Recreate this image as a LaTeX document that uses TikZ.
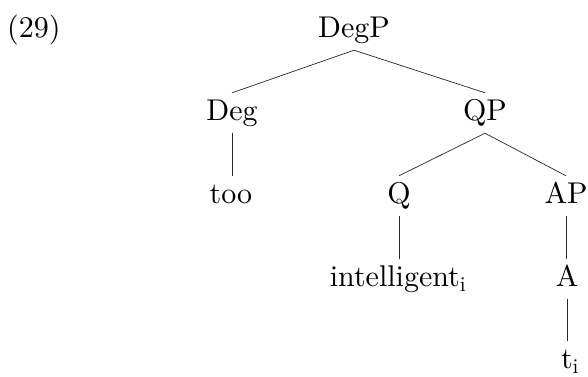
\documentclass[tikz,border=0pt]{standalone}
\usepackage{fontspec}
\setmainfont{lmroman10-regular}[Extension=.otf]
\begin{document}
\begin{tikzpicture}[x=1pt,y=-1pt,
  lbl/.style={anchor=base,inner xsep=0pt,inner ysep=7pt,text height=20pt,text depth=6pt,font=\fontsize{30}{36}\selectfont},
  edge/.style={draw=black!85,line width=0.7pt}]
\useasboundingbox (0,0) rectangle (588,376);
\node[anchor=base west,inner sep=0pt,font=\fontsize{30}{36}\selectfont] (num) at (7,37) {(29)};
\node[lbl] (DegP) at (354,37) {DegP};
\node[lbl] (Deg) at (232,120) {Deg};
\node[lbl] (QP) at (485,120) {QP};
\node[lbl] (too) at (231,203) {too};
\node[lbl] (Q) at (399,203) {Q};
\node[lbl] (AP) at (566,203) {AP};
\node[lbl] (intel) at (398,286) {intelligent\textsubscript{i}};
\node[lbl] (A) at (567,286) {A};
\node[lbl] (t) at (570,368) {t\textsubscript{i}};
\draw[edge] (DegP.south) -- (Deg.north);
\draw[edge] (DegP.south) -- (QP.north);
\draw[edge] (Deg.south) -- (Deg.south |- too.north);
\draw[edge] (QP.south) -- (Q.north);
\draw[edge] (QP.south) -- (AP.north);
\draw[edge] (Q.south) -- (Q.south |- intel.north);
\draw[edge] (AP.south) -- (AP.south |- A.north);
\draw[edge] (A.south) -- (A.south |- t.north);
\end{tikzpicture}
\end{document}
